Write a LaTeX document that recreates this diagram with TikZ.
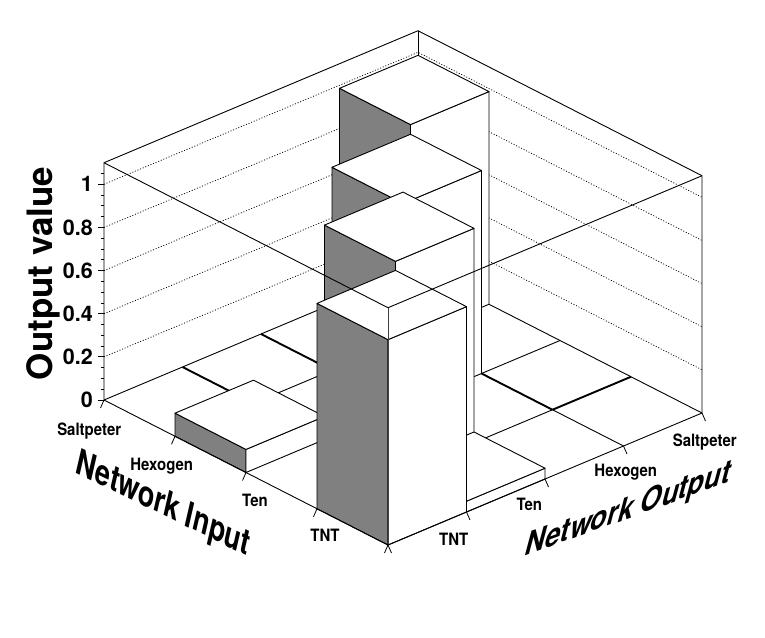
\documentclass[tikz,border=0pt]{standalone}
\usepackage{fontspec}
\setmainfont{TeX Gyre Heros}
\definecolor{barside}{RGB}{128,128,128}
\tikzset{
  baredge/.style={line width=0.9pt, line join=round, draw=black},
  frameedge/.style={line width=0.9pt, line join=round},
  frontedge/.style={line width=0.6pt, draw=black!75},
  gridline/.style={line width=0.75pt, dash pattern=on 1pt off 1.8pt},
  floorthin/.style={line width=0.9pt},
  floorthick/.style={line width=1.9pt},
  tickmark/.style={line width=0.8pt},
  zlab/.style={font=\fontsize{21.5}{24}\selectfont\bfseries, anchor=east, inner sep=0pt},
  binlab/.style={font=\fontsize{17}{20}\selectfont\bfseries, xscale=0.88, anchor=base, inner sep=0pt},
  titlelab/.style={font=\fontsize{33}{38}\selectfont\bfseries, anchor=base, inner sep=0pt},
}
\newcommand\legobar[3]{%
  \filldraw[baredge, fill=barside] (#1,#2,0) -- (#1+1,#2,0) -- (#1+1,#2,#3) -- (#1,#2,#3) -- cycle;
  \filldraw[baredge, fill=white] (#1+1,#2,0) -- (#1+1,#2+1,0) -- (#1+1,#2+1,#3) -- (#1+1,#2,#3) -- cycle;
  \filldraw[baredge, fill=white] (#1,#2,#3) -- (#1+1,#2,#3) -- (#1+1,#2+1,#3) -- (#1,#2+1,#3) -- cycle;
}
\begin{document}
\begin{tikzpicture}[x=1pt,y=-1pt]
\fill[white] (0,0) rectangle (765,637);
\useasboundingbox (0,0) rectangle (765,637);
\begin{scope}[x={(71pt,-36.25pt)}, y={(78.5pt,33pt)}, z={(0pt,215.7pt)}, shift={(104pt,-400pt)}]
  % back walls: grid
  \foreach \h in {0.2,0.4,0.6,0.8,1.0}{
    \draw[gridline] (0,0,\h) -- (0,4,\h) -- (4,4,\h);
  }
  % back walls: edges
  \draw[frameedge] (0,0,0) -- (0,0,1.1) -- (0,4,1.1) -- (4,4,1.1) -- (4,4,0);
  \draw[frameedge] (0,4,0) -- (0,4,1.1);
  \draw[floorthin] (0,0,0) -- (0,4,0) -- (4,4,0);
  % floor lines of nearly empty bins
  \draw[floorthick] (0,1,0) -- (1,1,0);
  \draw[floorthick] (0,2,0) -- (1,2,0);
  \draw[floorthick] (2,3,0) -- (3,3,0);
  \draw[floorthick] (3,3,0) -- (3,4,0);
  \draw[floorthin] (1,1,0) -- (1,2,0);
  \draw[floorthin] (2,3,0) -- (2,4,0);
  \draw[floorthin] (3,3,0) -- (4,3,0);
  \draw[floorthin] (3,2,0) -- (3,3,0);
  % bars, back to front
  \legobar{0}{3}{0.986}
  \legobar{1}{2}{0.941}
  \legobar{2}{1}{0.994}
  \legobar{1}{0}{0.107}
  \legobar{3}{1}{0.05}
  \legobar{3}{0}{0.952}
  % front frame edges
  \draw[frameedge] (0,0,1.1) -- (4,0,1.1) -- (4,4,1.1);
  \draw[frontedge] (4,0,1.1) -- (4,0,0);
  % axes
  \draw[frameedge] (0,0,0) -- (4,0,0) -- (4,4,0);
  \foreach \i in {0,...,4}{
    \draw[tickmark] (\i,0,0) -- ++(-3.5pt,-8pt);
    \draw[tickmark] (4,\i,0) -- ++(3.5pt,-8pt);
  }
  \foreach \h in {0,0.2,0.4,0.6,0.8,1.0}{
    \draw[tickmark] (0,0,\h) -- ++(-6pt,0pt);
  }
  \foreach \h in {0.05,0.1,0.15,0.25,0.3,0.35,0.45,0.5,0.55,0.65,0.7,0.75,0.85,0.9,0.95,1.05}{
    \draw[tickmark] (0,0,\h) -- ++(-3.5pt,0pt);
  }
\end{scope}
% z axis labels
\node[zlab] (z0) at (93,400) {0};
\node[zlab] (z2) at (93,356.9) {0.2};
\node[zlab] (z4) at (93,313.7) {0.4};
\node[zlab] (z6) at (93,270.6) {0.6};
\node[zlab] (z8) at (93,227.4) {0.8};
\node[zlab] (z10) at (93,184.3) {1};
\node[font=\fontsize{35}{40}\selectfont\bfseries, rotate=90, anchor=base, inner sep=0pt] (ztitle) at (52,273.5) {Output value};
% input axis bin labels
\node[binlab] (inSalt) at (89.2,435) {Saltpeter};
\node[binlab] (inHex) at (161.7,470.7) {Hexogen};
\node[binlab] (inTen) at (255,506) {Ten};
\node[binlab] (inTNT) at (325,541.7) {TNT};
% output axis bin labels
\node[binlab] (outTNT) at (453.7,545) {TNT};
\node[binlab] (outTen) at (529.3,510.7) {Ten};
\node[binlab] (outHex) at (625.8,476.7) {Hexogen};
\node[binlab] (outSalt) at (704.7,446.7) {Saltpeter};
% axis titles
\begin{scope}[shift={(161,514)}, cm={0.782,-0.381,0.238,1.032,(0,0)}]
  \node[titlelab, transform shape] (xtitle) at (0,0) {Network Input};
\end{scope}
\begin{scope}[shift={(626,519.5)}, cm={0.827,0.301,0.274,1.024,(0,0)}]
  \node[titlelab, transform shape] (ytitle) at (0,0) {Network Output};
\end{scope}
\end{tikzpicture}
\end{document}
